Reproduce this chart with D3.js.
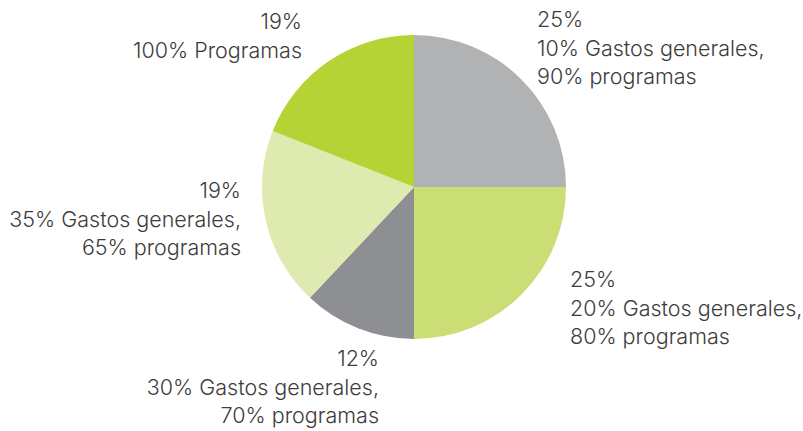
<!DOCTYPE html>
<html>
<head>
<meta charset="utf-8">
<script src="https://cdn.jsdelivr.net/npm/d3@7"></script>
<style>
  body { margin: 0; background: #fff; }
  svg text { font-family: Inter, "Open Sans", sans-serif; font-weight: 300; fill: #3c3c3c; }
</style>
</head>
<body>
<svg id="chart" width="803" height="431"></svg>
<script>
// slices, clockwise from 12 o'clock
var SHARES = [25, 25, 12, 19, 19];
var LINES = [
  ['25%', '10% Gastos generales,', '90% programas'],
  ['25%', '20% Gastos generales,', '80% programas'],
  ['12%', '30% Gastos generales,', '70% programas'],
  ['19%', '35% Gastos generales,', '65% programas'],
  ['19%', '100% Programas']
];
var COLORS = ['#b1b2b4', '#cbdd75', '#8e8f93', '#dfeab0', '#b5d334'];

// label anchors (x, first baseline, text-anchor)
var LABEL_POS = [
  {x: 537, y: 27, anchor: 'start'},
  {x: 570, y: 287, anchor: 'start'},
  {x: 379, y: 366, anchor: 'end'},
  {x: 241, y: 198, anchor: 'end'},
  {x: 302, y: 29, anchor: 'end'}
];

var svg = d3.select('#chart');
var cx = 414, cy = 187, r = 152;

var pie = d3.pie().sort(null).value((d) => d);
var arc = d3.arc().innerRadius(0).outerRadius(r);

var g = svg.append('g').attr('transform', 'translate(' + cx + ',' + cy + ')');

g.selectAll('path')
    .data(pie(SHARES))
  .enter().append('path')
    .attr('d', arc)
    .attr('fill', (d, i) => COLORS[i]);

var labels = svg.selectAll('text.label')
    .data(LINES)
  .enter().append('text')
    .attr('class', 'label')
    .attr('font-size', 21.5)
    .attr('text-anchor', (d, i) => LABEL_POS[i].anchor);

labels.each(function(lines, i) {
  var p = LABEL_POS[i];
  d3.select(this).selectAll('tspan')
      .data(lines)
    .enter().append('tspan')
      .attr('x', p.x)
      .attr('y', (t, j) => p.y + j * 28.5)
      .text((t) => t);
});
</script>
</body>
</html>
